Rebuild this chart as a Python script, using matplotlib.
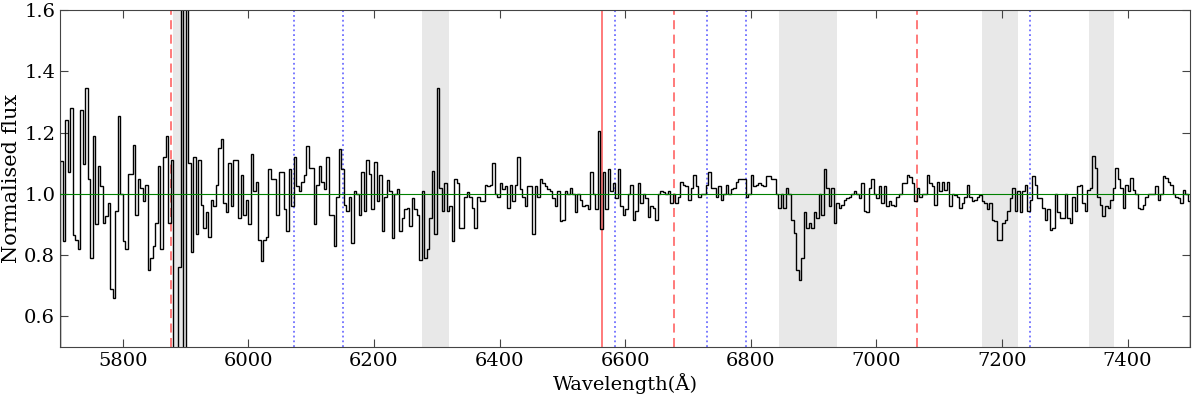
import numpy as np
import matplotlib
matplotlib.use("Agg")
import matplotlib.pyplot as plt

plt.rcParams['font.family'] = 'DejaVu Serif'

# binned spectrum: 4 A bins starting at 5700 A (one row = 40 A)
bin_width = 4
wave_start = 5700
flux = [
    1.107, 0.845, 1.24, 1.07, 1.28, 0.867, 0.85, 0.82, 1.275, 1.096,
    1.346, 1.05, 0.79, 1.19, 0.90, 1.09, 1.025, 0.905, 0.927, 0.97,
    0.69, 0.66, 0.943, 1.254, 1.00, 0.845, 0.82, 1.065, 1.065, 1.16,
    0.93, 1.05, 1.02, 0.975, 1.03, 0.753, 0.79, 0.83, 0.905, 1.09,
    0.82, 1.12, 1.19, 0.905, 1.11, 0.30, 0.30, 0.76, 1.95, 0.25,
    1.95, 1.10, 0.81, 1.12, 0.87, 1.11, 0.965, 0.89, 0.94, 0.86,
    0.98, 0.96, 1.03, 1.15, 1.18, 0.97, 0.94, 1.10, 0.96, 1.11,
    1.11, 0.92, 1.06, 0.93, 0.98, 0.90, 1.13, 1.01, 1.04, 0.85,
    0.78, 0.85, 0.86, 1.08, 1.05, 1.05, 0.93, 1.07, 1.07, 0.95,
    0.88, 1.08, 0.96, 1.12, 1.025, 1.01, 1.04, 1.06, 1.155, 1.085,
    1.085, 0.90, 1.03, 1.09, 1.04, 1.015, 1.12, 0.93, 0.93, 0.83,
    0.99, 1.145, 1.08, 0.965, 0.945, 0.99, 0.84, 1.01, 1.00, 0.93,
    1.07, 0.945, 1.11, 1.065, 0.95, 1.105, 0.975, 1.06, 0.88, 0.99,
    1.045, 1.01, 0.855, 1.00, 1.015, 0.88, 0.92, 0.95, 0.955, 0.895,
    0.985, 0.95, 0.93, 0.785, 1.01, 0.79, 0.82, 0.92, 1.075, 0.87,
    1.345, 1.02, 0.945, 1.035, 0.945, 0.96, 0.845, 1.05, 1.035, 0.89,
    0.89, 0.99, 1.005, 0.99, 0.955, 0.89, 0.99, 0.975, 0.975, 1.03,
    1.025, 1.03, 1.10, 1.00, 0.99, 1.035, 1.015, 1.025, 0.955, 1.03,
    0.975, 1.03, 1.12, 1.015, 0.99, 0.96, 1.025, 1.025, 0.87, 1.025,
    0.99, 1.05, 1.035, 1.025, 1.015, 1.01, 0.985, 0.96, 1.01, 0.91,
    0.915, 1.01, 1.00, 1.02, 1.00, 0.94, 1.00, 0.98, 0.96, 0.965,
    0.95, 1.07, 1.00, 0.95, 1.205, 0.885, 1.07, 0.95, 1.08, 1.01,
    1.035, 0.985, 1.08, 0.96, 0.93, 0.95, 1.00, 1.03, 0.915, 0.945,
    1.035, 0.97, 1.00, 0.985, 0.925, 0.96, 0.955, 0.915, 1.00, 1.01,
    1.005, 1.00, 1.01, 0.97, 1.00, 0.97, 0.99, 1.04, 1.03, 1.025,
    0.98, 1.02, 1.063, 1.025, 0.99, 1.00, 1.00, 1.03, 1.07, 1.02,
    1.02, 0.99, 1.025, 0.98, 1.00, 1.03, 1.00, 1.015, 1.02, 1.04,
    1.047, 1.047, 1.047, 0.99, 1.00, 1.063, 1.025, 1.03, 1.035, 1.03,
    1.025, 1.058, 1.058, 1.05, 1.05, 1.00, 0.955, 1.00, 0.955, 1.02,
    1.00, 0.916, 0.873, 0.75, 0.72, 0.79, 0.94, 0.89, 0.905, 0.89,
    0.94, 0.92, 1.00, 0.93, 1.08, 1.02, 0.96, 1.02, 0.905, 0.97,
    0.955, 0.965, 0.98, 0.987, 0.99, 1.00, 1.01, 1.00, 0.985, 1.036,
    0.943, 0.94, 1.02, 1.05, 1.00, 0.987, 1.025, 0.97, 1.025, 0.96,
    0.975, 0.965, 0.96, 0.99, 1.00, 1.036, 1.036, 1.063, 1.055, 1.036,
    0.976, 1.02, 0.99, 1.00, 1.00, 1.063, 1.036, 1.025, 0.965, 1.04,
    1.01, 1.04, 1.014, 1.04, 0.96, 1.00, 0.995, 0.99, 0.954, 0.97,
    0.99, 1.03, 0.99, 0.975, 0.98, 0.99, 0.995, 0.976, 0.97, 0.95,
    0.97, 0.916, 0.91, 0.85, 0.85, 0.905, 0.916, 0.943, 0.987, 1.02,
    0.943, 1.01, 0.94, 1.01, 1.03, 0.943, 0.98, 1.058, 1.03, 0.987,
    0.987, 0.954, 0.916, 0.95, 0.883, 0.89, 1.00, 0.94, 0.92, 0.92,
    1.00, 0.92, 0.905, 0.99, 0.943, 1.025, 1.03, 0.97, 0.943, 1.014,
    1.02, 1.123, 1.085, 0.99, 0.965, 0.927, 0.96, 0.954, 0.98, 1.02,
    1.085, 1.047, 1.02, 0.954, 1.03, 1.01, 1.052, 1.014, 1.00, 0.954,
    0.95, 0.965, 0.99, 1.00, 1.00, 1.00, 1.025, 0.98, 1.00, 1.058,
    1.052, 1.04, 1.03, 1.00, 0.99, 0.987, 0.97, 1.014, 1.00, 0.976,
]

# masked (telluric) regions
bands = [(5880, 5901), (6277, 6320), (6845, 6938), (7168, 7225), (7339, 7378)]
# line markers
he_lines = [5876, 6678, 7065]
halpha = 6563
dotted_lines = [6072, 6150, 6583, 6731, 6793, 7244]

edges = wave_start + bin_width * np.arange(len(flux) + 1)

fig, ax = plt.subplots(figsize=(12, 3.98), dpi=100)
fig.subplots_adjust(left=0.05, right=0.992, top=0.975, bottom=0.128)

for lo, hi in bands:
    ax.axvspan(lo, hi, color='#e8e8e8', lw=0, zorder=0)

for w in he_lines:
    ax.axvline(w, color='#ff6f6f', ls='--', lw=1.3, dashes=(5, 3), zorder=1)
ax.axvline(halpha, color='#ff6f6f', ls='-', lw=1.3, zorder=1)
for w in dotted_lines:
    ax.axvline(w, color='#6f6fff', ls=':', lw=1.3, zorder=1)

ax.stairs(flux, edges, color='black', lw=1.0, zorder=2)
ax.axhline(1.0, color='green', lw=0.8, zorder=3)

ax.set_xlim(5700, 7500)
ax.set_ylim(0.5, 1.6)
ax.set_xticks(np.arange(5800, 7401, 200))
ax.set_yticks([0.6, 0.8, 1.0, 1.2, 1.4, 1.6])
ax.tick_params(direction='in', top=True, right=True, length=6, labelsize=14, color='#444444')
for s in ax.spines.values():
    s.set_color('#444444')

ax.set_xlabel('Wavelength(Å)', fontsize=14, labelpad=2)
ax.set_ylabel('Normalised flux', fontsize=15, labelpad=2)

fig.savefig('out.png', dpi=100)
